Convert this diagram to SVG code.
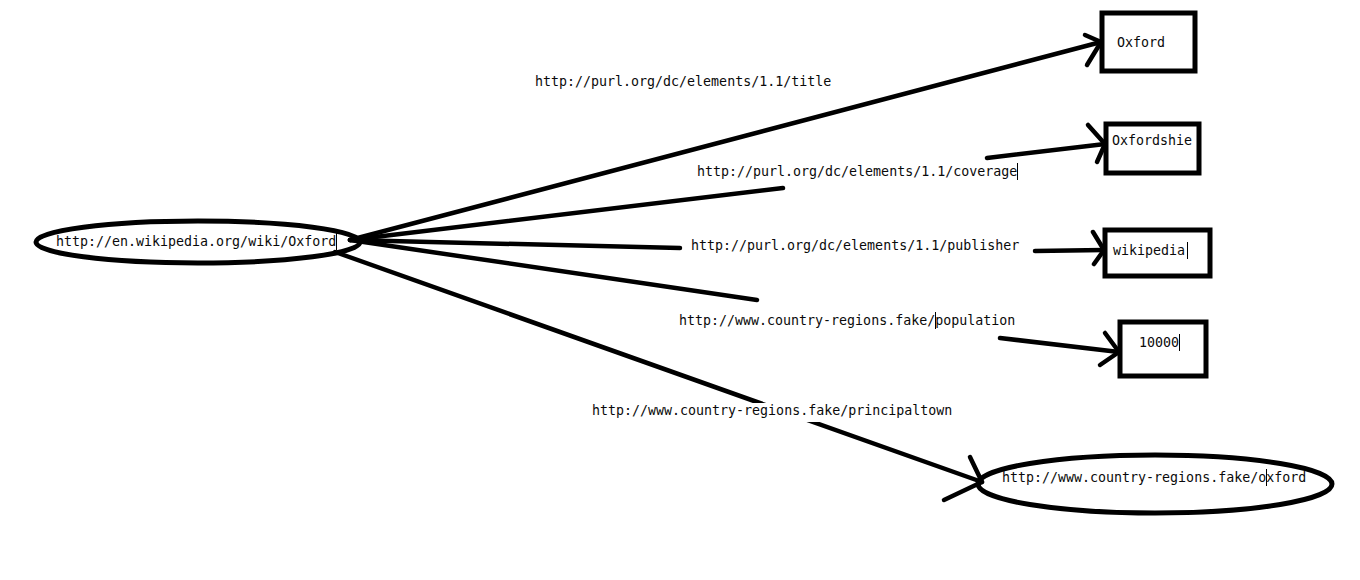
<svg xmlns="http://www.w3.org/2000/svg" width="1360" height="580" viewBox="0 0 1360 580">
  <style>
    .bg { fill: #ffffff; }
    .shape { fill: none; stroke: #000; stroke-width: 5; }
    .edge { fill: none; stroke: #000; stroke-width: 4.5; stroke-linecap: round; stroke-linejoin: round; }
    .caret { stroke: #000; stroke-width: 1; }
    .mask { fill: #ffffff; }
    text { font-family: "DejaVu Sans Mono", "Liberation Mono", monospace; font-size: 13.3px; fill: #0a0a0a; }
  </style>
  <rect class="bg" x="0" y="0" width="1360" height="580"/>

  <!-- connectors: drawn first so the labels sit on top of them -->
  <g id="connectors">
    <!-- title -->
    <line class="edge" x1="350" y1="240" x2="1101" y2="42"/>
    <polyline class="edge" points="1085,35 1101,42 1087,65"/>
    <!-- coverage (broken around its label) -->
    <line class="edge" x1="350" y1="240" x2="783" y2="188"/>
    <line class="edge" x1="987" y1="158" x2="1105" y2="144"/>
    <polyline class="edge" points="1088,125 1105,144 1097,162"/>
    <!-- publisher -->
    <line class="edge" x1="350" y1="240" x2="680" y2="248"/>
    <line class="edge" x1="1035" y1="251" x2="1104" y2="250"/>
    <polyline class="edge" points="1093,232 1104,250 1094,264"/>
    <!-- population -->
    <line class="edge" x1="350" y1="240" x2="757" y2="300"/>
    <line class="edge" x1="1000" y1="338" x2="1119" y2="352"/>
    <polyline class="edge" points="1105,333 1119,352 1100,365"/>
    <!-- principaltown -->
    <line class="edge" x1="335" y1="252" x2="982" y2="482"/>
    <polyline class="edge" points="970,457 982,482 944,500"/>
    <!-- edge labels -->
    <text x="535" y="86">http://purl.org/dc/elements/1.1/title</text>
    <text x="697" y="176">http://purl.org/dc/elements/1.1/coverage</text>
    <line class="caret" x1="1017.5" y1="163" x2="1017.5" y2="180"/>
    <text x="691" y="250">http://purl.org/dc/elements/1.1/publisher</text>
    <text x="679" y="325">http://www.country-regions.fake/population</text>
    <line class="caret" x1="935.5" y1="312" x2="935.5" y2="329"/>
    <rect class="mask" x="589" y="403" width="368" height="19"/>
    <text x="592" y="415">http://www.country-regions.fake/principaltown</text>
  </g>

  <g id="node-oxford-page">
    <ellipse class="shape" cx="198" cy="242" rx="162" ry="21"/>
    <text x="56" y="246">http://en.wikipedia.org/wiki/Oxford</text>
    <line class="caret" x1="336.5" y1="233" x2="336.5" y2="250"/>
  </g>

  <g id="node-title">
    <rect class="shape" x="1102" y="13" width="93" height="58"/>
    <text x="1117" y="47">Oxford</text>
  </g>

  <g id="node-coverage">
    <rect class="shape" x="1106" y="124" width="93" height="49"/>
    <text x="1112" y="145">Oxfordshie</text>
  </g>

  <g id="node-publisher">
    <rect class="shape" x="1105" y="230" width="105" height="46"/>
    <text x="1113" y="255">wikipedia</text>
    <line class="caret" x1="1187.5" y1="242" x2="1187.5" y2="259"/>
  </g>

  <g id="node-population">
    <rect class="shape" x="1120" y="322" width="86" height="54"/>
    <text x="1139" y="347">10000</text>
    <line class="caret" x1="1179.5" y1="334" x2="1179.5" y2="351"/>
  </g>

  <g id="node-principaltown">
    <ellipse class="shape" cx="1155" cy="484" rx="177" ry="29"/>
    <text x="1002" y="482">http://www.country-regions.fake/oxford</text>
    <line class="caret" x1="1266.5" y1="469" x2="1266.5" y2="486"/>
  </g>
</svg>
